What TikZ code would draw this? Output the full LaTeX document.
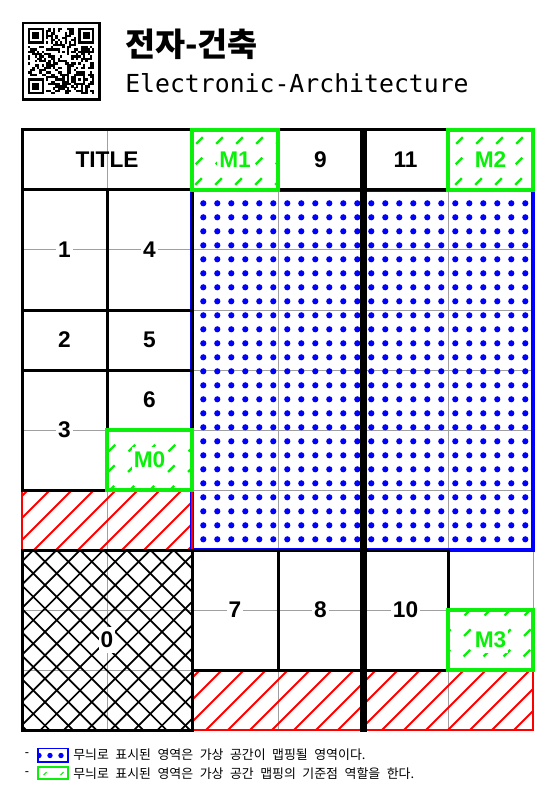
\documentclass[tikz,border=0pt]{standalone}
\usepackage{fontspec}
\setmainfont{Liberation Sans}
\newfontfamily\krtitle{Noto Sans CJK KR}
\newfontfamily\monofnt{DejaVu Sans Mono}
\definecolor{qblue}{RGB}{0,0,255}
\definecolor{qred}{RGB}{255,0,0}
\definecolor{qgreen}{RGB}{10,240,10}
\definecolor{qgray}{RGB}{160,160,160}
\newcommand\wsp{\spaceskip=0.5em\relax}
\tikzset{
  gridl/.style={draw=qgray, line width=0.75pt},
  cellb/.style={draw=black, line width=2.25pt},
  grnb/.style={draw=qgreen, line width=2.6pt},
  redb/.style={draw=qred, line width=2.2pt},
  blueb/.style={draw=qblue, line width=2.3pt},
  rh/.style={draw=qred, line width=1.5pt},
  xh/.style={draw=black, line width=1.3pt},
  gd/.style={draw=qgreen, line width=1.7pt, dash pattern=on 7pt off 14.75pt},
  lab/.style={font=\fontsize{17}{20}\selectfont\bfseries, fill=white, inner xsep=1.5pt, inner ysep=4pt},
  mlab/.style={lab, text=qgreen},
  leg/.style={font=\krtitle\fontsize{9.7}{11}\selectfont, inner sep=0pt},
}
\newcommand\greendash[4]{%
  \begin{scope}
    \clip (#1,#2) rectangle (#3,#4);
    \foreach \c in {0,20,...,1400} \draw[gd] ({\c-700},800) -- ++(800,-800);
  \end{scope}}
\begin{document}
\begin{tikzpicture}[x=0.75pt,y=-0.75pt]
\useasboundingbox (0,0) rectangle (555,798);
\fill[white] (0,0) rectangle (555,798);

% ---------- QR code ----------
\draw[line width=2pt] (23,23) rectangle (99.5,99.5);
\pgfmathsetseed{4242}
\foreach \i in {0,...,28} {\foreach \j in {0,...,28} {%
  \pgfmathrandominteger{\rr}{0}{1}%
  \ifnum\rr=1 \fill ({27.7+2.3*\i},{27.7+2.3*\j}) rectangle ++(2.35,2.35);\fi}}
\foreach \wx/\wy in {0/0,21/0,0/21}
  \fill[white] ({27.7+2.3*\wx},{27.7+2.3*\wy}) rectangle ++(18.4,18.4);
\foreach \fx/\fy in {0/0,22/0,0/22} {
  \fill[black] ({27.7+2.3*\fx},{27.7+2.3*\fy}) rectangle ++(16.1,16.1);
  \fill[white] ({27.7+2.3*\fx+2.3},{27.7+2.3*\fy+2.3}) rectangle ++(11.5,11.5);
  \fill[black] ({27.7+2.3*\fx+4.6},{27.7+2.3*\fy+4.6}) rectangle ++(6.9,6.9);
}
\fill[black] ({27.7+2.3*20},{27.7+2.3*20}) rectangle ++(11.5,11.5);
\fill[white] ({27.7+2.3*21},{27.7+2.3*21}) rectangle ++(6.9,6.9);
\fill[black] ({27.7+2.3*22},{27.7+2.3*22}) rectangle ++(2.3,2.3);
\foreach \i in {8,...,20} {
  \ifodd\i \def\tc{white}\else\def\tc{black}\fi
  \fill[\tc] ({27.7+2.3*\i},{27.7+2.3*6}) rectangle ++(2.3,2.3);
  \fill[\tc] ({27.7+2.3*6},{27.7+2.3*\i}) rectangle ++(2.3,2.3);
}

% ---------- title ----------
\node[font=\krtitle\bfseries\fontsize{24.5}{28}\selectfont, anchor=west, inner sep=0pt] (ttl) at (125,44) {전자-건축};
\node[font=\monofnt\fontsize{18.6}{22}\selectfont, anchor=base west, inner sep=0pt] (sub) at (125,92.5) {Electronic-Architecture};

% ---------- grid ----------
\foreach \gx in {22,107,192,278,363,448,533} \draw[gridl] (\gx,130) -- (\gx,730);
\foreach \gy in {130,190,...,730} \draw[gridl] (22,\gy) -- (533,\gy);

% ---------- blue dots ----------
\begin{scope}
  \clip (192,190) rectangle (533,550);
  \foreach \i in {0,...,23} {\foreach \j in {0,...,24} {\fill[qblue] ({203.3+14*\i},{203.3+14*\j}) circle (3.1);}}
\end{scope}

% ---------- red hatch ----------
\begin{scope}
  \clip (22,490) rectangle (192,550);
  \foreach \c in {0,22,...,1400} \draw[rh] ({\c-700},800) -- ++(800,-800);
\end{scope}
\begin{scope}
  \clip (192,670) rectangle (533,730);
  \foreach \c in {0,22,...,1400} \draw[rh] ({\c-700},800) -- ++(800,-800);
\end{scope}

% ---------- cross hatch ----------
\begin{scope}
  \clip (22,550) rectangle (192,730);
  \foreach \k in {-9,...,15} {
    \draw[xh] ({33.3+23.4*\k-200},750) -- ++(400,-400);
    \draw[xh] ({33.3+23.4*\k-200},350) -- ++(400,400);
  }
\end{scope}

% ---------- green dashed fills ----------
\greendash{192}{130}{278}{190}
\greendash{448}{130}{533}{190}
\greendash{107}{430}{192}{490}
\greendash{448}{610}{533}{670}

% ---------- region borders ----------
\draw[blueb] (192,190) rectangle (533,550);
\draw[redb] (22,490) rectangle (192,550);
\draw[redb] (192,670) rectangle (533,730);

% ---------- black cells ----------
\foreach \a/\b/\c/\d in {22/130/192/190, 278/130/363/190, 363/130/448/190,
  22/190/107/310, 107/190/192/310, 22/310/107/370, 107/310/192/370,
  22/370/107/490, 107/370/192/430, 22/550/192/730,
  192/550/278/670, 278/550/363/670, 363/550/448/670}
  \draw[cellb] (\a,\b) rectangle (\c,\d);

% ---------- green cells ----------
\foreach \a/\b/\c/\d in {192/130/278/190, 448/130/533/190, 107/430/192/490, 448/610/533/670}
  \draw[grnb] (\a,\b) rectangle (\c,\d);

% ---------- thick divider ----------
\draw[line width=5.25pt] (363,128.5) -- (363,731.5);

% ---------- labels ----------
\node[lab, fill=none] (title) at (107,160) {TITLE};
\node[mlab] (m1) at (235,160) {M1};
\node[lab] (n9) at (320.5,160) {9};
\node[lab] (n11) at (405.5,160) {11};
\node[mlab] (m2) at (490.5,160) {M2};
\node[lab] (n1) at (64.5,250) {1};
\node[lab] (n4) at (149.5,250) {4};
\node[lab] (n2) at (64.5,340) {2};
\node[lab] (n5) at (149.5,340) {5};
\node[lab] (n3) at (64.5,430) {3};
\node[lab] (n6) at (149.5,400) {6};
\node[mlab] (m0) at (149.5,460) {M0};
\node[lab] (n0) at (107,640) {0};
\node[lab] (n7) at (235,610) {7};
\node[lab] (n8) at (320.5,610) {8};
\node[lab] (n10) at (405.5,610) {10};
\node[mlab] (m3) at (490.5,640) {M3};

% ---------- legend ----------
\node[font=\fontsize{9.5}{11}\selectfont, inner sep=0pt] (dash1) at (27,754.5) {-};
\node[font=\fontsize{9.5}{11}\selectfont, inner sep=0pt] (dash2) at (27,773.5) {-};
\begin{scope}
  \clip (38,748.5) rectangle (68,762);
  \foreach \dx in {39,50,61} \fill[qblue] (\dx,755.5) circle (2.7);
\end{scope}
\draw[draw=qblue, line width=0.9pt] (38,748.5) rectangle (68,762);
\draw[draw=qgreen, line width=0.9pt] (38,767) rectangle (68,779);
\draw[draw=qgreen, line width=0.8pt] (43.5,775) -- (46.5,772);
\draw[draw=qgreen, line width=0.8pt] (60.5,775) -- (63.5,772);
\node[leg, anchor=west] (leg1) at (73,754.5) {\wsp 무늬로 표시된 영역은 가상 공간이 맵핑될 영역이다.};
\node[leg, anchor=west] (leg2) at (73,773.5) {\wsp 무늬로 표시된 영역은 가상 공간 맵핑의 기준점 역할을 한다.};
\end{tikzpicture}
\end{document}
